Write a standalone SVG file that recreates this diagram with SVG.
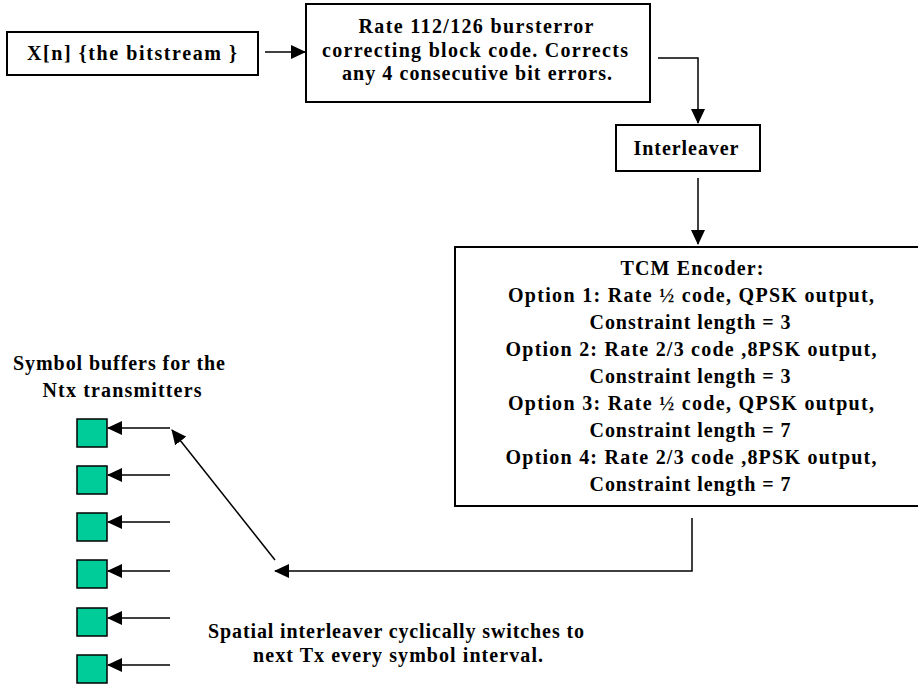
<svg xmlns="http://www.w3.org/2000/svg" width="918" height="685" viewBox="0 0 918 685">
<style>
.box{fill:#fff;stroke:#000;stroke-width:2}
.buf{fill:#00CC99;stroke:#000;stroke-width:1.5}
.ln{fill:none;stroke:#000;stroke-width:1.5}
text{font-family:"Liberation Serif","Times New Roman",serif;font-weight:bold;font-size:20px;fill:#000;text-anchor:middle}
</style>
<defs>
<marker id="ah" markerUnits="userSpaceOnUse" markerWidth="16" markerHeight="14" refX="14" refY="7" orient="auto">
<path d="M0,0 L15,7 L0,14 Z" fill="#000"/>
</marker>
</defs>
<rect width="918" height="685" fill="#fff"/>
<g id="connectors">
<line class="ln" x1="265" y1="52" x2="305" y2="52" marker-end="url(#ah)"/>
<polyline class="ln" points="658,58 698,58 698,123" marker-end="url(#ah)"/>
<line class="ln" x1="698" y1="178" x2="698" y2="244" marker-end="url(#ah)"/>
<polyline class="ln" points="692,518 692,571 275,571" marker-end="url(#ah)"/>
<line class="ln" x1="275" y1="560" x2="172" y2="430" marker-end="url(#ah)"/>
<line class="ln" x1="170" y1="428" x2="108" y2="428" marker-end="url(#ah)"/>
<line class="ln" x1="170" y1="475" x2="108" y2="475" marker-end="url(#ah)"/>
<line class="ln" x1="170" y1="522" x2="108" y2="522" marker-end="url(#ah)"/>
<line class="ln" x1="170" y1="571" x2="108" y2="571" marker-end="url(#ah)"/>
<line class="ln" x1="170" y1="618" x2="108" y2="618" marker-end="url(#ah)"/>
<line class="ln" x1="170" y1="665" x2="108" y2="665" marker-end="url(#ah)"/>
</g>
<g id="bitstream">
<rect class="box" x="7" y="32" width="251" height="43"/>
<text x="132" y="60" textLength="210">X[n] {the bitstream }</text>
</g>
<g id="blockcode">
<rect class="box" x="306" y="4" width="344" height="98"/>
<text x="476" y="33" textLength="235">Rate 112/126 bursterror</text>
<text x="475" y="57" textLength="306">correcting block code.  Corrects</text>
<text x="477" y="80" textLength="270">any 4 consecutive bit errors.</text>
</g>
<g id="interleaver">
<rect class="box" x="616" y="125" width="144" height="46"/>
<text x="686" y="155" textLength="105">Interleaver</text>
</g>
<g id="tcm">
<rect class="box" x="455" y="247" width="475" height="259"/>
<text x="692" y="275" textLength="143">TCM Encoder:</text>
<text x="691" y="302" textLength="366">Option 1:  Rate ½ code, QPSK output,</text>
<text x="690" y="329" textLength="201">Constraint length = 3</text>
<text x="691" y="356" textLength="371">Option 2:  Rate 2/3 code ,8PSK output,</text>
<text x="690" y="383" textLength="201">Constraint length = 3</text>
<text x="691" y="410" textLength="366">Option 3:  Rate ½ code, QPSK output,</text>
<text x="690" y="437" textLength="201">Constraint length = 7</text>
<text x="691" y="464" textLength="371">Option 4:  Rate 2/3 code ,8PSK output,</text>
<text x="690" y="491" textLength="201">Constraint length = 7</text>
</g>
<g id="buffers">
<text x="119" y="370" textLength="212">Symbol buffers for the</text>
<text x="122" y="397" textLength="159">Ntx transmitters</text>
<rect class="buf" x="77" y="419" width="30" height="28"/>
<rect class="buf" x="77" y="466" width="30" height="28"/>
<rect class="buf" x="77" y="513" width="30" height="28"/>
<rect class="buf" x="77" y="560" width="30" height="28"/>
<rect class="buf" x="77" y="608" width="30" height="28"/>
<rect class="buf" x="77" y="655" width="30" height="28"/>
</g>
<g id="spatial">
<text x="396" y="638" textLength="376">Spatial interleaver cyclically switches to</text>
<text x="398" y="662" textLength="290">next Tx every symbol interval.</text>
</g>
</svg>
